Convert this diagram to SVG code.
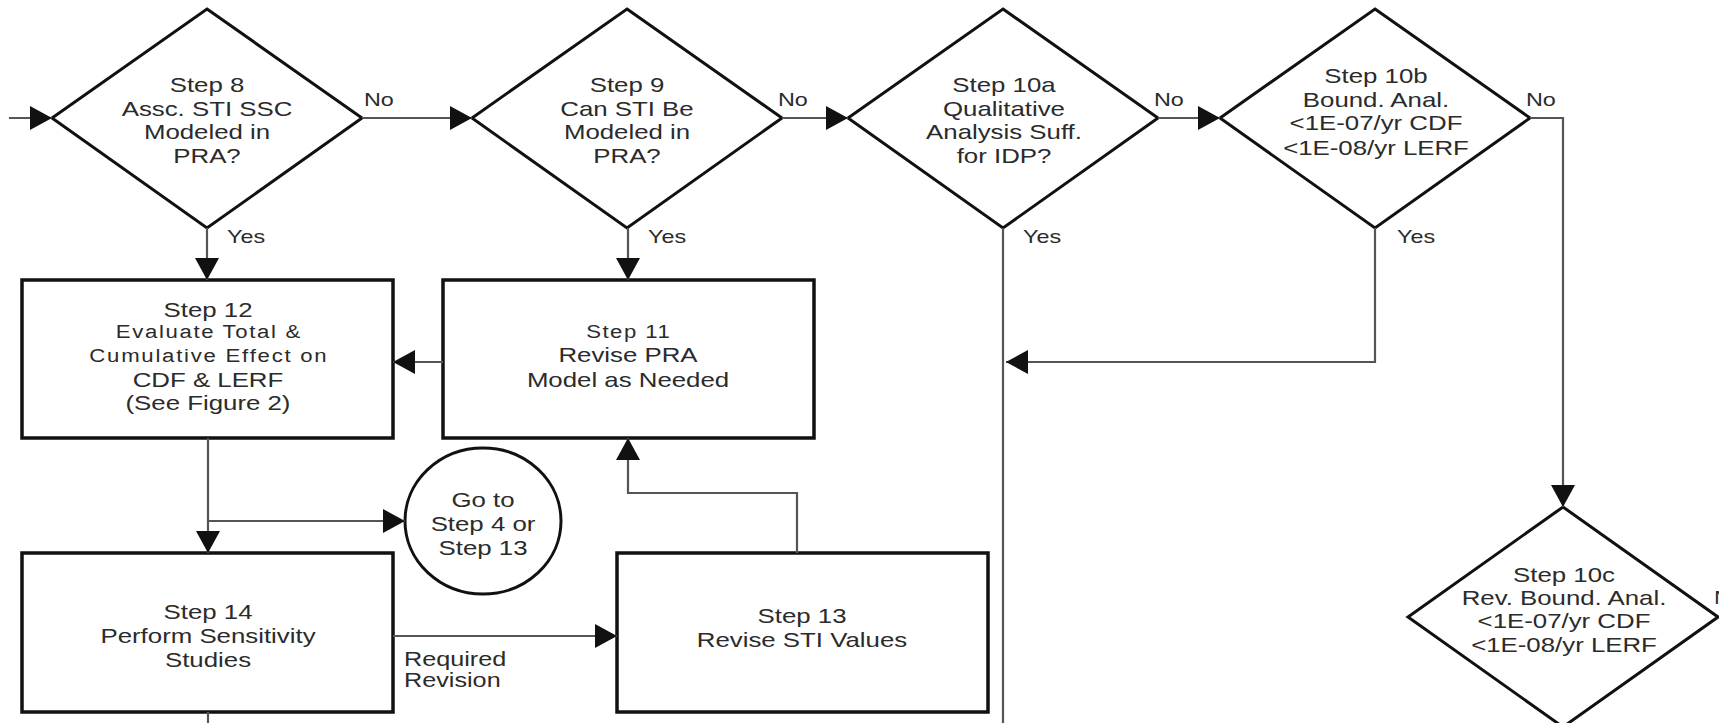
<svg xmlns="http://www.w3.org/2000/svg" width="1719" height="723" viewBox="0 0 1719 723">
<style>
.shape{fill:#fff;stroke:#111;stroke-width:3;stroke-linejoin:miter}
.box{fill:#fff;stroke:#111;stroke-width:3.5}
.conn{fill:none;stroke:#555;stroke-width:2.2}
text{font-family:"Liberation Sans",Arial,sans-serif;fill:#2b2b2b}
.t{font-size:21px;text-anchor:middle}
.ts{font-size:18px;text-anchor:middle}
.lbl{font-size:19px}
.lbl2{font-size:20.5px}
</style>
<defs>
<marker id="ah" markerUnits="userSpaceOnUse" viewBox="0 0 22 24" markerWidth="22" markerHeight="24" refX="22" refY="12" orient="auto">
<path d="M0,0 L22,12 L0,24 z" fill="#111"/>
</marker>
</defs>
<rect width="1719" height="723" fill="#fff"/>

<g id="step8">
<polygon class="shape" points="207,9 362,118 207,228 52,118"/>
<g transform="translate(207 0) scale(1.23 1)">
<text class="t" y="92">Step 8</text>
<text class="t" y="116">Assc. STI SSC</text>
<text class="t" y="139">Modeled in</text>
<text class="t" y="163">PRA?</text>
</g>
</g>

<g id="step9">
<polygon class="shape" points="627,9 782,118 627,228 472,118"/>
<g transform="translate(627 0) scale(1.23 1)">
<text class="t" y="92">Step 9</text>
<text class="t" y="116">Can STI Be</text>
<text class="t" y="139">Modeled in</text>
<text class="t" y="163">PRA?</text>
</g>
</g>

<g id="step10a">
<polygon class="shape" points="1003,9 1158,118 1003,228 848,118"/>
<g transform="translate(1004 0) scale(1.23 1)">
<text class="t" y="92">Step 10a</text>
<text class="t" y="116">Qualitative</text>
<text class="t" y="139">Analysis Suff.</text>
<text class="t" y="163">for IDP?</text>
</g>
</g>

<g id="step10b">
<polygon class="shape" points="1375,9 1530,118 1375,228 1220,118"/>
<g transform="translate(1376 0) scale(1.23 1)">
<text class="t" y="83">Step 10b</text>
<text class="t" y="107">Bound. Anal.</text>
<text class="t" y="130">&lt;1E-07/yr CDF</text>
<text class="t" y="155">&lt;1E-08/yr LERF</text>
</g>
</g>

<g id="step10c">
<polygon class="shape" points="1563,507 1718,617 1563,727 1408,617"/>
<g transform="translate(1564 0) scale(1.23 1)">
<text class="t" y="582">Step 10c</text>
<text class="t" y="605">Rev. Bound. Anal.</text>
<text class="t" y="628">&lt;1E-07/yr CDF</text>
<text class="t" y="652">&lt;1E-08/yr LERF</text>
</g>
</g>

<g id="step12">
<rect class="box" x="22" y="280" width="371" height="158"/>
<g transform="translate(208 0) scale(1.23 1)">
<text class="t" y="317">Step 12</text>
<text class="ts" y="338" textLength="150" lengthAdjust="spacing">Evaluate Total &amp;</text>
<text class="ts" y="362" textLength="193" lengthAdjust="spacing">Cumulative Effect on</text>
<text class="t" y="387">CDF &amp; LERF</text>
<text class="t" y="410">(See Figure 2)</text>
</g>
</g>

<g id="step11">
<rect class="box" x="443" y="280" width="371" height="158"/>
<g transform="translate(628 0) scale(1.23 1)">
<text class="ts" y="338" textLength="68" lengthAdjust="spacing">Step 11</text>
<text class="t" y="362">Revise PRA</text>
<text class="t" y="387">Model as Needed</text>
</g>
</g>

<g id="goto">
<ellipse class="shape" cx="483" cy="521" rx="78" ry="73"/>
<g transform="translate(483 0) scale(1.23 1)">
<text class="t" y="507">Go to</text>
<text class="t" y="531">Step 4 or</text>
<text class="t" y="555">Step 13</text>
</g>
</g>

<g id="step14">
<rect class="box" x="22" y="553" width="371" height="159"/>
<g transform="translate(208 0) scale(1.23 1)">
<text class="t" y="619">Step 14</text>
<text class="t" y="643">Perform Sensitivity</text>
<text class="t" y="667">Studies</text>
</g>
</g>

<g id="step13">
<rect class="box" x="617" y="553" width="371" height="159"/>
<g transform="translate(802 0) scale(1.23 1)">
<text class="t" y="623">Step 13</text>
<text class="t" y="647">Revise STI Values</text>
</g>
</g>

<g id="connectors">
<path class="conn" d="M9,118 H52" marker-end="url(#ah)"/>
<path class="conn" d="M362,118 H472" marker-end="url(#ah)"/>
<path class="conn" d="M782,118 H848" marker-end="url(#ah)"/>
<path class="conn" d="M1158,118 H1220" marker-end="url(#ah)"/>
<path class="conn" d="M1530,118 H1563 V507" marker-end="url(#ah)"/>
<path class="conn" d="M207,228 V280" marker-end="url(#ah)"/>
<path class="conn" d="M628,228 V280" marker-end="url(#ah)"/>
<path class="conn" d="M1003,228 V723"/>
<path class="conn" d="M1375,228 V362 H1006" marker-end="url(#ah)"/>
<path class="conn" d="M443,362 H393" marker-end="url(#ah)"/>
<path class="conn" d="M208,438 V553" marker-end="url(#ah)"/>
<path class="conn" d="M208,521 H405" marker-end="url(#ah)"/>
<path class="conn" d="M393,636 H617" marker-end="url(#ah)"/>
<path class="conn" d="M797,553 V493 H628 V438" marker-end="url(#ah)"/>
<path class="conn" d="M208,712 V723"/>
</g>

<g id="labels">
<text class="lbl" transform="translate(364 106) scale(1.23 1)">No</text>
<text class="lbl" transform="translate(778 106) scale(1.23 1)">No</text>
<text class="lbl" transform="translate(1154 106) scale(1.23 1)">No</text>
<text class="lbl" transform="translate(1526 106) scale(1.23 1)">No</text>
<text class="lbl" transform="translate(1714 604) scale(1.23 1)">No</text>
<text class="lbl" transform="translate(227 243) scale(1.23 1)">Yes</text>
<text class="lbl" transform="translate(648 243) scale(1.23 1)">Yes</text>
<text class="lbl" transform="translate(1023 243) scale(1.23 1)">Yes</text>
<text class="lbl" transform="translate(1397 243) scale(1.23 1)">Yes</text>
<text class="lbl2" transform="translate(404 666) scale(1.23 1)">Required</text>
<text class="lbl2" transform="translate(404 687) scale(1.23 1)">Revision</text>
</g>
</svg>
